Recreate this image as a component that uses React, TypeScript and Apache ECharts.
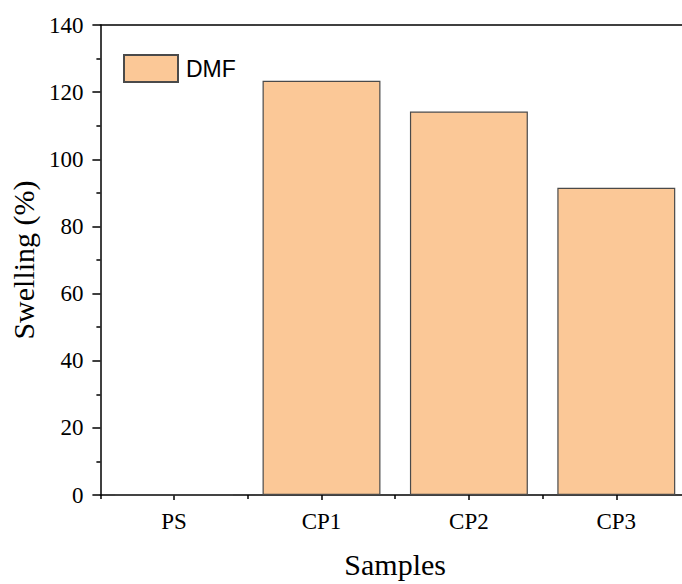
import React, { useEffect, useRef } from "react";
import * as echarts from "echarts";

const categories = ["PS", "CP1", "CP2", "CP3"];
const dmfValues = [0, 123.4, 114.2, 91.5];
const seriesName = "DMF";
const xTitle = "Samples";
const yTitle = "Swelling (%)";

const SERIF = "'Liberation Serif', 'Times New Roman', serif";
const SANS = "'Liberation Sans', Arial, sans-serif";

export default function App() {
  const ref = useRef<HTMLDivElement>(null);
  useEffect(() => {
    if (!ref.current) return;
    const chart = echarts.init(ref.current, null, { renderer: "svg" });
    chart.setOption({
      animation: false,
      backgroundColor: "#ffffff",
      grid: { left: 100, top: 25, width: 590, height: 476, containLabel: false },
      legend: {
        show: true,
        left: 123,
        top: 54,
        itemWidth: 54,
        itemHeight: 27,
        icon: "rect",
        padding: 0,
        data: [seriesName],
        textStyle: { fontFamily: SANS, fontSize: 23, color: "#000", padding: [0, 0, 0, 3] },
      },
      xAxis: [
        {
          type: "category",
          data: categories,
          position: "bottom",
          name: xTitle,
          nameLocation: "middle",
          nameGap: 54,
          nameTextStyle: { fontFamily: SERIF, fontSize: 30, color: "#000" },
          axisLine: { show: true, onZero: false, lineStyle: { color: "#000", width: 1.5 } },
          axisTick: { show: true, alignWithLabel: true, inside: false, length: 5, lineStyle: { color: "#000", width: 1.5 } },
          axisLabel: { fontFamily: SERIF, fontSize: 23, color: "#000", margin: 15 },
          splitLine: { show: false },
        },
        {
          type: "category",
          data: categories,
          position: "bottom",
          axisLine: { show: false, onZero: false },
          axisTick: { show: true, alignWithLabel: false, length: 4, lineStyle: { color: "#000", width: 1.5 } },
          axisLabel: { show: false },
          splitLine: { show: false },
        },
        {
          type: "category",
          data: categories,
          position: "top",
          axisLine: { show: true, onZero: false, lineStyle: { color: "#000", width: 1.5 } },
          axisTick: { show: false },
          axisLabel: { show: false },
          splitLine: { show: false },
        },
      ],
      yAxis: {
        type: "value",
        min: 0,
        max: 140,
        interval: 20,
        name: yTitle,
        nameLocation: "middle",
        nameRotate: 90,
        nameGap: 58,
        nameTextStyle: { fontFamily: SERIF, fontSize: 30, color: "#000" },
        axisLine: { show: true, lineStyle: { color: "#000", width: 1.5 } },
        axisTick: { show: true, inside: false, length: 8, lineStyle: { color: "#000", width: 1.5 } },
        minorTick: { show: true, splitNumber: 2, length: 4, lineStyle: { color: "#000", width: 1.5 } },
        axisLabel: { fontFamily: SERIF, fontSize: 23, color: "#000", margin: 17 },
        splitLine: { show: false },
      },
      series: [
        {
          name: seriesName,
          type: "bar",
          xAxisIndex: 0,
          data: dmfValues,
          barWidth: "80%",
          itemStyle: { color: "#FBC897", borderColor: "#4a4a4a", borderWidth: 1.2 },
        },
      ],
    });
    return () => chart.dispose();
  }, []);
  return (
    <div style={{ position: "fixed", left: 0, top: 0, width: 682, height: 584, overflow: "hidden", background: "#fff" }}>
      <div ref={ref} style={{ width: 700, height: 584 }} />
    </div>
  );
}
